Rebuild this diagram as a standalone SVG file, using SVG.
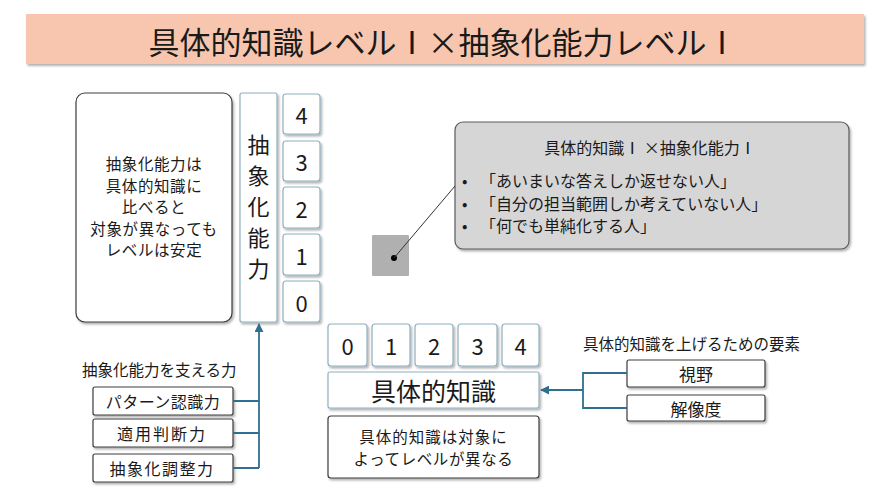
<svg xmlns="http://www.w3.org/2000/svg" width="886" height="498" viewBox="0 0 886 498">
<defs>
<style>
text{font-family:"Noto Sans CJK JP","Noto Sans",sans-serif;fill:#1a1a1a;dominant-baseline:central}
.c{text-anchor:middle}
.bx{fill:#fff;stroke:#3c3c3c;stroke-width:1.2}
.bl{fill:#fff;stroke:#8fb0c0;stroke-width:1.2}
.cn{fill:none;stroke:#2f6f8f;stroke-width:1.8}
</style>
<filter id="sh" x="-10%" y="-10%" width="130%" height="140%">
<feDropShadow dx="1.5" dy="2" stdDeviation="1.2" flood-color="#000" flood-opacity="0.3"/>
</filter>
<marker id="ar" viewBox="0 0 10 10" refX="9" refY="5" markerWidth="5" markerHeight="5" orient="auto-start-reverse">
<path d="M0,0 L10,5 L0,10 z" fill="#2f6f8f"/>
</marker>
</defs>
<rect width="886" height="498" fill="#fff"/>

<g id="title">
<rect x="26" y="14" width="838" height="50" fill="#f8c6ae" filter="url(#sh)"/>
<text class="c" x="443" y="40" font-size="31">具体的知識レベルⅠ×抽象化能力レベルⅠ</text>
</g>

<g id="note-left">
<rect class="bx" x="76" y="93" width="156" height="229" rx="9" filter="url(#sh)"/>
<text class="c" x="154" y="163" font-size="15.5" letter-spacing="0.6">抽象化能力は</text>
<text class="c" x="154" y="184.5" font-size="15.5" letter-spacing="0.6">具体的知識に</text>
<text class="c" x="154" y="206" font-size="15.5" letter-spacing="0.6">比べると</text>
<text class="c" x="154" y="227.5" font-size="15.5" letter-spacing="0.6">対象が異なっても</text>
<text class="c" x="154" y="249" font-size="15.5" letter-spacing="0.6">レベルは安定</text>
</g>

<g id="abstract-axis">
<rect class="bl" x="240" y="93" width="37" height="229" rx="2" filter="url(#sh)"/>
<text class="c" x="258.5" y="143" font-size="22">抽</text>
<text class="c" x="258.5" y="174" font-size="22">象</text>
<text class="c" x="258.5" y="205" font-size="22">化</text>
<text class="c" x="258.5" y="236" font-size="22">能</text>
<text class="c" x="258.5" y="267" font-size="22">力</text>
</g>

<g id="abstract-levels">
<rect class="bl" x="283" y="94" width="37" height="40" rx="3" filter="url(#sh)"/>
<text class="c" x="301.5" y="114" font-size="22">4</text>
<rect class="bl" x="283" y="141" width="37" height="40" rx="3" filter="url(#sh)"/>
<text class="c" x="301.5" y="161" font-size="22">3</text>
<rect class="bl" x="283" y="187" width="37" height="41" rx="3" filter="url(#sh)"/>
<text class="c" x="301.5" y="207.5" font-size="22">2</text>
<rect class="bl" x="283" y="234" width="37" height="41" rx="3" filter="url(#sh)"/>
<text class="c" x="301.5" y="254.5" font-size="22">1</text>
<rect class="bl" x="283" y="281" width="37" height="41" rx="3" filter="url(#sh)"/>
<text class="c" x="301.5" y="301.5" font-size="22">0</text>
</g>

<g id="marker-point">
<rect x="372" y="235" width="37" height="41" fill="#b0b0b0" rx="1"/>
<circle cx="394" cy="258" r="3" fill="#000"/>
</g>

<g id="callout">
<rect x="455" y="122" width="394" height="127" rx="8" fill="#d6d6d6" stroke="#5a5a5a" stroke-width="1.2" filter="url(#sh)"/>
<text class="c" x="650" y="147" font-size="16">具体的知識Ⅰ ×抽象化能力Ⅰ</text>
<text x="462" y="180" font-size="16">•</text>
<text x="480" y="180" font-size="16">「あいまいな答えしか返せない人」</text>
<text x="462" y="203" font-size="16">•</text>
<text x="480" y="203" font-size="16">「自分の担当範囲しか考えていない人」</text>
<text x="462" y="225" font-size="16">•</text>
<text x="480" y="225" font-size="16">「何でも単純化する人」</text>
</g>

<g id="abstract-support">
<text x="82" y="369" font-size="15.5">抽象化能力を支える力</text>
</g>
<g id="pattern">
<rect class="bx" x="93" y="387" width="140" height="28" rx="2" filter="url(#sh)"/>
<text class="c" x="163" y="401" font-size="16" letter-spacing="0.5">パターン認識力</text>
</g>
<g id="apply">
<rect class="bx" x="93" y="419" width="140" height="28" rx="2" filter="url(#sh)"/>
<text class="c" x="162" y="433" font-size="16" letter-spacing="2">適用判断力</text>
</g>
<g id="adjust">
<rect class="bx" x="93" y="454" width="140" height="28" rx="2" filter="url(#sh)"/>
<text class="c" x="162" y="468" font-size="16" letter-spacing="1.5">抽象化調整力</text>
</g>

<g id="concrete-levels">
<rect class="bl" x="328" y="324" width="39" height="42" rx="3" filter="url(#sh)"/>
<text class="c" x="347.5" y="345" font-size="22">0</text>
<rect class="bl" x="372" y="324" width="38" height="42" rx="3" filter="url(#sh)"/>
<text class="c" x="391" y="345" font-size="22">1</text>
<rect class="bl" x="415" y="324" width="38" height="42" rx="3" filter="url(#sh)"/>
<text class="c" x="434" y="345" font-size="22">2</text>
<rect class="bl" x="458" y="324" width="39" height="42" rx="3" filter="url(#sh)"/>
<text class="c" x="477.5" y="345" font-size="22">3</text>
<rect class="bl" x="502" y="324" width="37" height="42" rx="3" filter="url(#sh)"/>
<text class="c" x="520.5" y="345" font-size="22">4</text>
</g>

<g id="concrete-axis">
<rect class="bl" x="328" y="372" width="211" height="36" rx="2" filter="url(#sh)"/>
<text class="c" x="433.5" y="390" font-size="25">具体的知識</text>
</g>

<g id="note-bottom">
<rect class="bx" x="328" y="416" width="211" height="62" rx="3" filter="url(#sh)"/>
<text class="c" x="433.5" y="436" font-size="15.5" letter-spacing="1">具体的知識は対象に</text>
<text class="c" x="433.5" y="458" font-size="15.5" letter-spacing="0.6">よってレベルが異なる</text>
</g>

<g id="concrete-elements">
<text x="583" y="343" font-size="15.5">具体的知識を上げるための要素</text>
</g>
<g id="view">
<rect class="bx" x="627" y="360" width="138" height="27" rx="2" filter="url(#sh)"/>
<text class="c" x="696" y="373.5" font-size="17">視野</text>
</g>
<g id="resolution">
<rect class="bx" x="627" y="395" width="138" height="26" rx="2" filter="url(#sh)"/>
<text class="c" x="696" y="408" font-size="17">解像度</text>
</g>

<g id="connectors">
<line x1="394" y1="258" x2="455" y2="186" stroke="#333" stroke-width="1"/>
<path class="cn" d="M233,401 H259 M233,433 H259 M233,468 H259"/>
<path class="cn" d="M259,468 V324" marker-end="url(#ar)"/>
<path class="cn" d="M627,373 H583 V408 H627"/>
<path class="cn" d="M583,390 H541" marker-end="url(#ar)"/>
</g>
</svg>
